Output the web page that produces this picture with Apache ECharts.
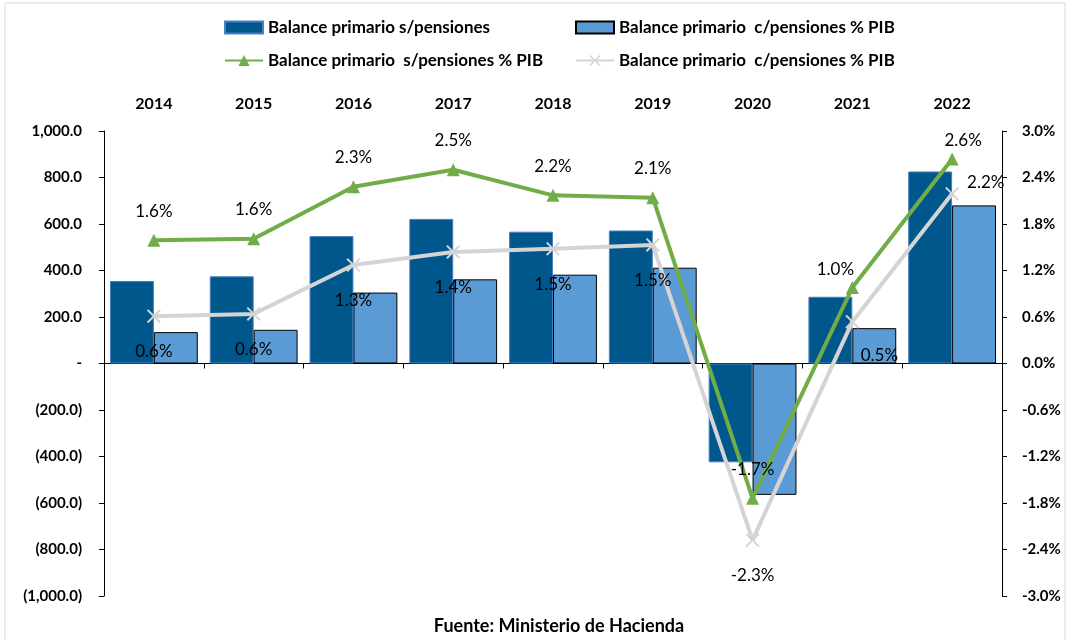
<!DOCTYPE html>
<html>
<head>
<meta charset="utf-8">
<script src="https://cdn.jsdelivr.net/npm/echarts@6/dist/echarts.min.js"></script>
<style>
  html, body { margin: 0; padding: 0; background: #fff; }
  #chart { width: 1070px; height: 640px; }
</style>
</head>
<body>
<div id="chart"></div>
<script>
const years = ['2014', '2015', '2016', '2017', '2018', '2019', '2020', '2021', '2022']
// millones, eje izquierdo
const balanceSinPensiones = [355, 375, 548, 622, 567, 572, -425, 287, 826]
const balanceConPensiones = [135, 145, 305, 362, 382, 412, -565, 152, 680]
// % PIB, eje derecho
const pibSinPensiones = [1.59, 1.61, 2.28, 2.50, 2.17, 2.14, -1.74, 0.98, 2.64]
const pibConPensiones = [0.61, 0.64, 1.27, 1.44, 1.48, 1.53, -2.28, 0.54, 2.19]

const FONT = 'Lato, "Open Sans", sans-serif'
const DARK = '#00578C'
const LIGHT = '#5B9BD5'
const GREEN = '#70AD47'
const GRAY = '#D4D4D4'

const names = {
  s: 'Balance primario s/pensiones',
  c: 'Balance primario  c/pensiones % PIB',
  sp: 'Balance primario  s/pensiones % PIB',
  cp: 'Balance primario  c/pensiones % PIB ',
}

const crossPath = 'path://M0,1L1,0L5,4L9,0L10,1L6,5L10,9L9,10L5,6L1,10L0,9L4,5Z'

function leftFmt(v) {
  if (v === 0) return '-'
  const s = Math.abs(v).toLocaleString('en-US', { minimumFractionDigits: 1, maximumFractionDigits: 1 })
  return v < 0 ? '(' + s + ')' : s
}

function pct(v) { return v.toFixed(1) + '%' }

function legendAt(name, left, top, extra) {
  return Object.assign({
    data: [name],
    left, top,
    padding: 0,
    itemWidth: 38,
    itemHeight: 12,
    itemGap: 0,
    selectedMode: false,
    textStyle: { fontFamily: FONT, fontWeight: 'bold', fontSize: 17, color: '#000' },
    formatter: n => n.trim(),
  }, extra || {})
}

// etiquetas de la linea gris: abajo salvo 2022
const grayData = pibConPensiones.map((v, i) => {
  const d = { value: v }
  if (i === 7) d.label = { position: 'bottom', distance: 18, offset: [27, 0] }
  if (i === 8) d.label = { position: 'right', distance: 8, offset: [0, -11] }
  return d
})
const greenData = pibSinPensiones.map((v, i) => {
  const d = { value: v }
  if (i === 7) d.label = { distance: 3, offset: [-17, 0] }
  if (i === 8) d.label = { distance: 3, offset: [11, 0] }
  return d
})

const chart = echarts.init(document.getElementById('chart'))
chart.setOption({
  animation: false,
  textStyle: { fontFamily: FONT },
  title: {
    text: 'Fuente: Ministerio de Hacienda',
    left: 554,
    textAlign: 'center',
    top: 612,
    textStyle: { fontFamily: FONT, fontWeight: 'bold', fontSize: 18, color: '#000' },
  },
  graphic: [{
    type: 'rect',
    shape: { x: 5, y: 3, width: 1060, height: 660 },
    style: { fill: 'none', stroke: '#d9d9d9', lineWidth: 1 },
    silent: true,
  }],
  legend: [
    legendAt(names.s, 224, 19, { icon: 'rect' }),
    legendAt(names.c, 575, 19, { icon: 'rect' }),
    legendAt(names.sp, 224, 52, { itemHeight: 14 }),
    legendAt(names.cp, 575, 52, { itemHeight: 14 }),
  ],
  grid: { left: 104, right: 68, top: 131, bottom: 44 },
  xAxis: [
    {
      type: 'category',
      data: years,
      axisLine: { onZero: true, lineStyle: { color: '#000', width: 1 } },
      axisTick: { show: true, length: 5, lineStyle: { color: '#000' } },
      axisLabel: { show: false },
    },
    {
      type: 'category',
      data: years,
      position: 'top',
      axisLine: { show: false },
      axisTick: { show: false },
      axisLabel: { margin: 19, fontFamily: FONT, fontWeight: 'bold', fontSize: 16, color: '#000' },
    },
  ],
  yAxis: [
    {
      type: 'value',
      min: -1000, max: 1000, interval: 200,
      axisLine: { show: true, onZero: false, lineStyle: { color: '#000' } },
      axisTick: { show: true, length: 5, lineStyle: { color: '#000' } },
      splitLine: { show: false },
      axisLabel: { margin: 22, formatter: leftFmt, fontFamily: FONT, fontWeight: 'bold', fontSize: 15, color: '#000' },
    },
    {
      type: 'value',
      min: -3, max: 3, interval: 0.6,
      axisLine: { show: true, onZero: false, lineStyle: { color: '#000' } },
      axisTick: { show: true, length: 5, lineStyle: { color: '#000' } },
      splitLine: { show: false },
      axisLabel: { margin: 20, formatter: v => v.toFixed(1) + '%', fontFamily: FONT, fontWeight: 'bold', fontSize: 15, color: '#000' },
    },
  ],
  series: [
    {
      name: names.s,
      type: 'bar',
      data: balanceSinPensiones,
      barGap: '0%',
      barCategoryGap: '12%',
      itemStyle: { color: DARK, borderColor: '#4A7EC4', borderWidth: 1 },
    },
    {
      name: names.c,
      type: 'bar',
      data: balanceConPensiones,
      itemStyle: { color: LIGHT, borderColor: '#000', borderWidth: 1 },
    },
    {
      name: names.cp,
      type: 'line',
      yAxisIndex: 1,
      data: grayData,
      symbol: crossPath,
      symbolSize: 14,
      lineStyle: { color: GRAY, width: 4 },
      itemStyle: { color: GRAY },
      label: {
        show: true, position: 'bottom', distance: 20,
        formatter: p => pct(p.value), fontFamily: FONT, fontSize: 17, color: '#000',
      },
      z: 3,
    },
    {
      name: names.sp,
      type: 'line',
      yAxisIndex: 1,
      data: greenData,
      symbol: 'triangle',
      symbolSize: 13,
      lineStyle: { color: GREEN, width: 4 },
      itemStyle: { color: GREEN },
      label: {
        show: true, position: 'top', distance: 14,
        formatter: p => pct(p.value), fontFamily: FONT, fontSize: 17, color: '#000',
      },
      z: 4,
    },
  ],
})
</script>
</body>
</html>
